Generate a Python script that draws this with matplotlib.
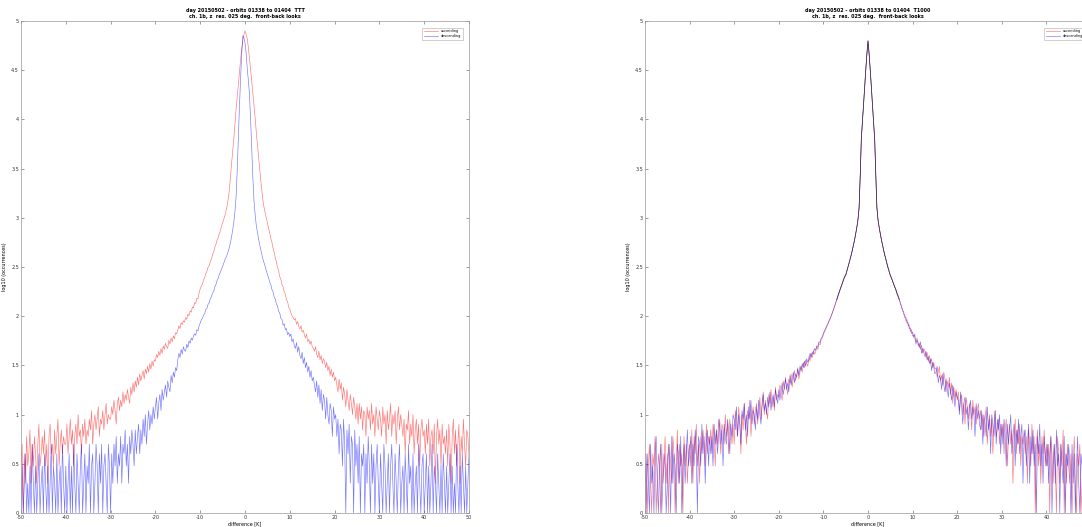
import numpy as np
import matplotlib
matplotlib.use("Agg")
import matplotlib.pyplot as plt

# histogram bins of the temperature difference [K], 0.25 K wide
diff_k = np.arange(-50, 50.125, 0.25)

# occurrences per bin, TTT case (20 bins = 5 K per row)
ttt_asc = [
    3, 5, 1, 4, 2, 6, 3, 4, 7, 2, 5, 3, 6, 4, 2, 5, 8, 3, 4, 6,
    4, 7, 3, 5, 2, 6, 8, 4, 5, 3, 7, 4, 6, 9, 3, 5, 7, 4, 6, 5,
    5, 8, 4, 6, 9, 5, 7, 3, 6, 8, 5, 10, 6, 7, 4, 8, 6, 9, 5, 7,
    6, 9, 7, 11, 5, 8, 10, 7, 9, 12, 6, 9, 8, 11, 7, 10, 13, 8, 10, 9,
    9, 12, 10, 14, 11, 8, 13, 15, 11, 14, 12, 17, 13, 16, 14, 18, 15, 13, 19, 16,
    21, 17, 22, 19, 24, 20, 26, 22, 25, 28, 23, 29, 26, 31, 27, 33, 29, 35, 31, 36,
    35, 41, 38, 44, 40, 47, 42, 50, 46, 53, 49, 47, 57, 52, 60, 55, 63, 59, 68, 66,
    72, 80, 75, 86, 82, 90, 87, 97, 93, 105, 101, 113, 110, 124, 121, 137, 135, 152, 150, 172,
    190, 203, 212, 235, 246, 271, 286, 314, 326, 360, 380, 422, 450, 500, 535, 590, 625, 690, 735, 820,
    890, 960, 1050, 1170, 1320, 1550, 1900, 2600, 3550, 4700, 6300, 8900, 12600, 16600, 22000, 30000, 40000, 51000, 63000, 72000,
    79400,
    73000, 66000, 54000, 41700, 32000, 24000, 18500, 14100, 10500, 7600, 5700, 4200, 3200, 2450, 1900, 1500, 1280, 1120, 1000, 890,
    790, 705, 620, 565, 495, 450, 392, 360, 312, 290, 252, 238, 209, 199, 176, 169, 146, 141, 123, 119,
    108, 101, 97, 92, 95, 83, 88, 79, 74, 80, 69, 72, 65, 60, 66, 55, 58, 52, 56, 49,
    47, 44, 49, 41, 38, 44, 36, 40, 33, 37, 35, 30, 34, 28, 31, 25, 29, 24, 27, 22,
    24, 20, 17, 23, 18, 21, 14, 19, 16, 12, 18, 14, 11, 16, 13, 10, 15, 12, 9, 13,
    8, 13, 9, 12, 7, 11, 10, 6, 12, 9, 11, 7, 13, 8, 10, 6, 12, 9, 7, 11,
    9, 6, 12, 8, 10, 5, 11, 7, 9, 13, 6, 10, 8, 11, 5, 9, 12, 7, 10, 8,
    6, 9, 4, 8, 7, 11, 5, 8, 6, 10, 4, 7, 9, 5, 8, 3, 7, 9, 6, 7,
    4, 8, 5, 9, 3, 6, 7, 4, 8, 2, 6, 9, 5, 7, 3, 8, 5, 6, 4, 7,
    3, 8, 5, 2, 6, 9, 4, 7, 3, 5, 8, 2, 6, 4, 9, 5, 3, 7, 6, 4,
]
ttt_desc = [
    1, 3, 1, 2, 4, 1, 2, 1, 3, 1, 5, 2, 1, 3, 1, 2, 4, 1, 2, 3,
    1, 4, 2, 1, 3, 1, 2, 5, 1, 3, 2, 1, 4, 1, 2, 3, 1, 5, 2, 1,
    3, 1, 2, 4, 1, 3, 1, 5, 2, 1, 4, 2, 1, 3, 5, 1, 2, 4, 1, 3,
    2, 5, 1, 3, 4, 1, 2, 5, 3, 1, 4, 2, 5, 1, 3, 4, 2, 1, 5, 3,
    1, 4, 2, 5, 3, 6, 2, 4, 3, 6, 2, 5, 4, 7, 3, 5, 2, 6, 4, 7,
    5, 3, 7, 4, 6, 8, 4, 7, 5, 9, 6, 10, 5, 8, 11, 7, 10, 8, 12, 9,
    12, 15, 9, 13, 16, 11, 18, 14, 17, 20, 15, 22, 19, 17, 25, 21, 27, 24, 30, 28,
    36, 42, 38, 46, 41, 49, 45, 44, 52, 48, 56, 53, 60, 57, 63, 66, 64, 73, 71, 80,
    85, 92, 95, 103, 106, 117, 120, 132, 136, 150, 158, 172, 178, 198, 209, 229, 242, 265, 279, 302,
    320, 345, 372, 395, 420, 455, 500, 560, 640, 750, 900, 1150, 1600, 2900, 6300, 13000, 25000, 45000, 70800, 68000,
    60000,
    47000, 33000, 25000, 17800, 10000, 5000, 2600, 1500, 1100, 850, 720, 620, 540, 480, 425, 380, 350, 320, 290, 265,
    248, 222, 210, 187, 178, 157, 150, 133, 128, 112, 108, 95, 93, 81, 84, 73, 75, 65, 68, 62,
    66, 55, 59, 50, 47, 54, 43, 49, 40, 37, 43, 33, 38, 30, 34, 27, 31, 24, 28, 22,
    24, 20, 17, 22, 15, 20, 13, 18, 11, 16, 14, 9, 15, 10, 8, 13, 11, 6, 12, 9,
    10, 6, 9, 4, 8, 7, 3, 9, 5, 1, 7, 4, 8, 2, 6, 5, 1, 7, 3, 5,
    2, 6, 1, 4, 3, 5, 1, 4, 2, 6, 3, 1, 5, 2, 4, 1, 3, 5, 2, 1,
    4, 2, 1, 5, 3, 1, 2, 4, 1, 3, 5, 2, 1, 4, 2, 1, 3, 5, 1, 2,
    3, 1, 4, 2, 1, 5, 2, 3, 1, 4, 1, 2, 3, 1, 5, 2, 1, 3, 4, 1,
    2, 4, 1, 3, 1, 2, 5, 1, 3, 2, 1, 4, 2, 1, 3, 1, 4, 2, 1, 3,
    1, 2, 4, 1, 3, 1, 2, 1, 5, 2, 1, 3, 1, 4, 2, 1, 3, 1, 2, 4,
]

# occurrences per bin, T1000 case
t1000_asc = [
    2, 4, 1, 3, 5, 2, 1, 4, 3, 6, 1, 2, 4, 3, 1, 5, 2, 3, 6, 2,
    4, 1, 5, 3, 2, 6, 4, 1, 3, 7, 2, 5, 3, 4, 1, 6, 3, 5, 2, 4,
    5, 3, 7, 2, 6, 4, 8, 3, 5, 2, 6, 4, 7, 5, 3, 8, 4, 6, 5, 7,
    4, 8, 6, 3, 7, 5, 9, 6, 4, 8, 7, 5, 10, 6, 8, 4, 9, 7, 5, 8,
    5, 11, 8, 6, 12, 9, 4, 10, 7, 13, 8, 5, 11, 9, 14, 6, 10, 12, 8, 11,
    13, 8, 11, 15, 9, 12, 17, 10, 14, 11, 9, 16, 13, 18, 12, 15, 11, 19, 14, 16,
    15, 20, 17, 14, 22, 18, 24, 19, 16, 23, 21, 26, 19, 24, 28, 22, 25, 30, 23, 27,
    31, 27, 34, 30, 36, 33, 31, 39, 35, 42, 38, 45, 41, 43, 49, 46, 53, 51, 58, 60,
    65, 70, 73, 78, 82, 88, 93, 100, 107, 116, 125, 135, 147, 160, 172, 186, 200, 216, 232, 250,
    260, 285, 315, 345, 380, 420, 470, 530, 600, 690, 800, 960, 1260, 2600, 6300, 9500, 14000, 21000, 32000, 46000,
    63000,
    46500, 32100, 21500, 14100, 9400, 6250, 2700, 1250, 950, 795, 690, 602, 530, 468, 420, 382, 340, 308, 285, 262,
    248, 226, 215, 195, 189, 168, 163, 145, 140, 121, 119, 104, 103, 90, 92, 80, 82, 70, 73, 63,
    64, 59, 55, 60, 50, 53, 46, 51, 42, 47, 44, 38, 43, 35, 40, 33, 37, 30, 34, 29,
    30, 24, 27, 31, 22, 25, 20, 27, 23, 17, 22, 19, 24, 16, 21, 13, 19, 15, 18, 14,
    17, 11, 14, 16, 10, 13, 8, 15, 12, 9, 13, 11, 7, 14, 10, 12, 8, 11, 13, 9,
    11, 7, 10, 6, 9, 12, 5, 8, 10, 6, 9, 4, 8, 11, 6, 7, 9, 5, 8, 6,
    8, 4, 7, 9, 3, 6, 8, 5, 7, 2, 6, 9, 4, 7, 5, 8, 3, 6, 5, 7,
    4, 6, 2, 7, 5, 3, 8, 4, 6, 1, 5, 7, 3, 5, 2, 6, 4, 7, 3, 5,
    3, 5, 1, 6, 4, 2, 5, 3, 1, 6, 4, 2, 5, 3, 7, 1, 4, 2, 5, 3,
    2, 4, 1, 3, 6, 2, 1, 4, 3, 5, 1, 2, 4, 1, 3, 5, 2, 1, 4, 2,
]
t1000_desc = [
    3, 1, 4, 2, 1, 5, 2, 3, 1, 4, 6, 2, 1, 3, 5, 1, 2, 4, 3, 1,
    2, 5, 3, 1, 6, 2, 4, 3, 1, 5, 4, 2, 6, 1, 3, 5, 2, 4, 7, 3,
    4, 6, 2, 5, 3, 7, 4, 1, 6, 5, 3, 8, 4, 6, 2, 5, 7, 3, 6, 4,
    6, 3, 8, 5, 7, 4, 6, 9, 5, 7, 3, 8, 6, 5, 9, 7, 4, 8, 6, 10,
    9, 7, 12, 6, 10, 8, 5, 11, 9, 13, 7, 10, 6, 12, 9, 14, 8, 11, 10, 7,
    12, 9, 14, 10, 8, 13, 16, 11, 13, 10, 15, 12, 17, 11, 14, 16, 12, 18, 15, 13,
    18, 14, 17, 21, 16, 19, 23, 18, 21, 17, 25, 20, 23, 27, 21, 26, 24, 29, 25, 31,
    28, 33, 30, 35, 31, 37, 34, 36, 42, 38, 43, 41, 47, 45, 50, 49, 55, 54, 60, 62,
    67, 71, 75, 80, 84, 89, 95, 101, 108, 117, 126, 137, 148, 161, 174, 188, 202, 218, 235, 252,
    262, 287, 316, 347, 382, 423, 472, 532, 602, 692, 802, 962, 1262, 2620, 6320, 9550, 14050, 21100, 31900, 46200,
    62800,
    46300, 32000, 21400, 13950, 9350, 6280, 2680, 1265, 955, 805, 692, 598, 534, 472, 418, 378, 342, 312, 283, 258,
    242, 231, 209, 201, 183, 173, 157, 151, 133, 129, 113, 111, 97, 97, 85, 86, 75, 76, 67, 69,
    61, 66, 52, 57, 54, 48, 55, 42, 47, 43, 39, 44, 36, 39, 33, 37, 28, 34, 30, 26,
    27, 31, 21, 25, 23, 18, 26, 20, 17, 23, 19, 15, 21, 17, 14, 20, 16, 12, 17, 15,
    14, 10, 17, 12, 8, 13, 15, 10, 12, 7, 11, 14, 9, 12, 10, 6, 13, 9, 11, 8,
    7, 11, 5, 10, 8, 6, 12, 7, 9, 4, 10, 8, 6, 11, 5, 9, 7, 10, 4, 8,
    5, 9, 6, 3, 8, 5, 7, 10, 4, 6, 8, 3, 7, 5, 9, 4, 6, 8, 2, 6,
    7, 3, 5, 8, 2, 6, 4, 7, 3, 5, 1, 6, 4, 8, 3, 5, 2, 6, 4, 3,
    5, 2, 4, 6, 1, 3, 5, 2, 7, 3, 4, 1, 5, 3, 2, 6, 1, 4, 3, 5,
    3, 1, 5, 2, 4, 1, 3, 6, 2, 1, 4, 3, 1, 5, 2, 3, 1, 4, 2, 1,
]

titles = [
    "day 20150502 - orbits 01338 to 01404  TTT\nch. 1b, z  res. 025 deg.  front-back looks",
    "day 20150502 - orbits 01338 to 01404  T1000\nch. 1b, z  res. 025 deg.  front-back looks",
]
legend_labels = ["ascending", "descending"]

fig = plt.figure(figsize=(10.82, 5.27), dpi=100)
W, H = 1082, 527
panels = [
    (fig.add_axes([21 / W, 14 / H, 448 / W, 492 / H]), ttt_asc, ttt_desc),
    (fig.add_axes([645 / W, 14 / H, 446 / W, 492 / H]), t1000_asc, t1000_desc),
]

for i, ((ax, asc, desc), title) in enumerate(zip(panels, titles)):
    la = np.log10(asc)
    ld = np.log10(desc)
    ax.plot(diff_k, la, color=(1, 0, 0), lw=0.45, alpha=0.55, label=legend_labels[0])
    ax.plot(diff_k, ld, color=(0, 0, 1), lw=0.45, alpha=0.55, label=legend_labels[1])
    if i == 1:
        # both passes coincide near the peak: draw the shared core darker
        core = np.abs(diff_k) <= 7
        ax.plot(diff_k[core], (la[core] + ld[core]) / 2, color="#222222", lw=0.5, alpha=0.8)
    ax.set_xlim(-50, 50)
    ax.set_ylim(0, 5)
    ax.set_xticks(np.arange(-50, 51, 10))
    xlabels = [str(v) for v in range(-50, 51, 10)]
    if i == 1:
        xlabels[-1] = ""
    ax.set_xticklabels(xlabels)
    ax.set_yticks(np.arange(0, 5.01, 0.5))
    ax.set_yticklabels(["0", "0.5", "1", "1.5", "2", "2.5", "3", "3.5", "4", "4.5", "5"])
    ax.tick_params(direction="in", length=2, width=0.4, labelsize=3.5, pad=1.5,
                   top=True, right=True, colors="#555555", labelcolor="#333333")
    for sp in ax.spines.values():
        sp.set_linewidth(0.5)
        sp.set_color("#999999")
    ax.set_title(title, fontsize=3.5, fontweight="bold", pad=2, linespacing=1.4)
    ax.set_xlabel("difference [K]", fontsize=3.5, labelpad=1)
    ax.set_ylabel("log10 (occurrences)", fontsize=3.5, labelpad=3)
    leg = ax.legend(loc="upper right", fontsize=2.5, frameon=True, fancybox=False,
                    handlelength=4, borderpad=0.5, labelspacing=0.3,
                    bbox_to_anchor=(0.99, 0.99))
    leg.get_frame().set_linewidth(0.4)
    leg.get_frame().set_edgecolor("#999999")

fig.savefig("out.png", dpi=100)
